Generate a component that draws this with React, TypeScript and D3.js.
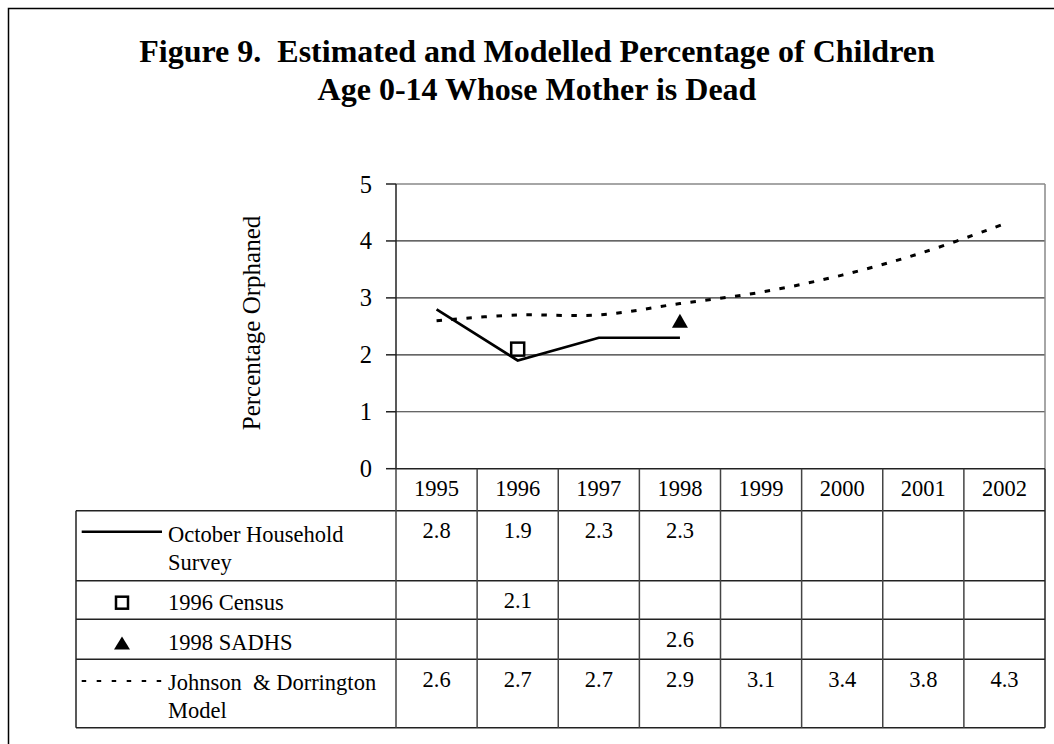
import React from "react";
import * as d3 from "d3";

// Years shown on the category axis and in the data table header
const years = ["1995", "1996", "1997", "1998", "1999", "2000", "2001", "2002"];

// October Household Survey estimates (1995-1998)
const ohsValues: (number | null)[] = [2.8, 1.9, 2.3, 2.3, null, null, null, null];
// 1996 Census point estimate
const censusValues: (number | null)[] = [null, 2.1, null, null, null, null, null, null];
// 1998 SADHS point estimate
const sadhsValues: (number | null)[] = [null, null, null, 2.6, null, null, null, null];
// Johnson & Dorrington model projection
const modelValues: (number | null)[] = [2.6, 2.7, 2.7, 2.9, 3.1, 3.4, 3.8, 4.3];

const yTicks = [0, 1, 2, 3, 4, 5];

const titleLines = [
  "Figure 9.  Estimated and Modelled Percentage of Children",
  "Age 0-14 Whose Mother is Dead",
];
const yAxisLabel = "Percentage Orphaned";

const seriesLabels = [
  ["October Household", "Survey"],
  ["1996 Census"],
  ["1998 SADHS"],
  ["Johnson  & Dorrington", "Model"],
];

const FONT = "'Liberation Serif', 'Times New Roman', serif";

export default function App() {
  const plotLeft = 396;
  const plotRight = 1045;
  const plotTop = 184;
  const plotBottom = 468.7;

  const x = d3.scaleBand<string>().domain(years).range([plotLeft, plotRight]).padding(0);
  const y = d3.scaleLinear().domain([0, 5]).range([plotBottom, plotTop]);
  const cx = (yr: string) => (x(yr) ?? 0) + x.bandwidth() / 2;

  const ohsPts = years
    .map((yr, i) => ({ yr, v: ohsValues[i] }))
    .filter((d) => d.v != null) as { yr: string; v: number }[];
  const modelPts = years
    .map((yr, i) => ({ yr, v: modelValues[i] }))
    .filter((d) => d.v != null) as { yr: string; v: number }[];

  const straight = d3
    .line<{ yr: string; v: number }>()
    .x((d) => cx(d.yr))
    .y((d) => y(d.v));
  const smooth = d3
    .line<{ yr: string; v: number }>()
    .x((d) => cx(d.yr))
    .y((d) => y(d.v))
    .curve(d3.curveCatmullRom.alpha(0.5));

  // Data table geometry
  const tableLeft = 76;
  const tableTop = 510.7;
  const rowBottoms = [580.7, 619.3, 659.3, 727.7];
  const valueBaselines = [538.3, 608, 646.7, 686.7];
  const tableRows = [ohsValues, censusValues, sadhsValues, modelValues];
  const boundaries = years.map((yr) => x(yr) ?? 0).concat([plotRight]);

  const triangle = (cxp: number, cyp: number, w: number, h: number) =>
    `M${cxp},${cyp - h / 2}L${cxp + w / 2},${cyp + h / 2}L${cxp - w / 2},${cyp + h / 2}Z`;

  const fmt = d3.format(".1f");

  return (
    <svg width={1054} height={744} style={{ position: "absolute", left: 0, top: 0, background: "#fff" }} fontFamily={FONT}>
      <rect x={0} y={0} width={1054} height={744} fill="#fff" />
      {/* outer frame */}
      <rect x={8.5} y={8.5} width={1100} height={800} fill="none" stroke="#000" strokeWidth={1.5} />

      {/* title */}
      {titleLines.map((t, i) => (
        <text
          key={t}
          x={537}
          y={61.7 + i * 38.5}
          textAnchor="middle"
          fontWeight="bold"
          fontSize={32}
          style={{ whiteSpace: "pre" }}
        >
          {t}
        </text>
      ))}

      {/* gridlines */}
      {yTicks
        .filter((t) => t > 0 && t < 5)
        .map((t) => (
          <line key={"g" + t} x1={plotLeft} x2={plotRight} y1={y(t)} y2={y(t)} stroke="#333" strokeWidth={1.2} />
        ))}
      {/* plot frame */}
      <line x1={plotLeft} x2={plotRight} y1={plotTop} y2={plotTop} stroke="#888" strokeWidth={1.5} />
      <line x1={plotRight} x2={plotRight} y1={plotTop} y2={plotBottom} stroke="#888" strokeWidth={1.5} />
      <line x1={plotLeft} x2={plotLeft} y1={plotTop} y2={plotBottom} stroke="#222" strokeWidth={1.5} />
      <line x1={plotLeft} x2={plotRight} y1={plotBottom} y2={plotBottom} stroke="#222" strokeWidth={1.5} />

      {/* y ticks and labels */}
      {yTicks.map((t) => (
        <g key={"t" + t}>
          <line x1={plotLeft - 10} x2={plotLeft} y1={y(t)} y2={y(t)} stroke="#222" strokeWidth={1.5} />
          <text x={372} y={y(t) + 8.5} textAnchor="end" fontSize={24.5}>
            {t}
          </text>
        </g>
      ))}
      <text
        transform={`translate(${259.5},${323}) rotate(-90)`}
        textAnchor="middle"
        fontSize={25}
      >
        {yAxisLabel}
      </text>

      {/* series */}
      <path d={smooth(modelPts) ?? ""} fill="none" stroke="#000" strokeWidth={3} strokeDasharray="5.5 9.5" />
      <path d={straight(ohsPts) ?? ""} fill="none" stroke="#000" strokeWidth={2.7} strokeLinejoin="miter" />
      {censusValues.map((v, i) =>
        v == null ? null : (
          <rect
            key={"c" + i}
            x={cx(years[i]) - 6.5}
            y={y(v) - 6.5}
            width={13}
            height={13}
            fill="#fff"
            stroke="#000"
            strokeWidth={2.5}
          />
        )
      )}
      {sadhsValues.map((v, i) =>
        v == null ? null : <path key={"s" + i} d={triangle(cx(years[i]), y(v), 16, 14)} fill="#000" />
      )}

      {/* data table: year header */}
      {years.map((yr) => (
        <text key={"h" + yr} x={cx(yr)} y={496} textAnchor="middle" fontSize={22.5}>
          {yr}
        </text>
      ))}
      {/* table grid */}
      <line x1={tableLeft} x2={plotRight} y1={tableTop} y2={tableTop} stroke="#222" strokeWidth={1.5} />
      {rowBottoms.map((rb, i) => (
        <line key={"rb" + i} x1={tableLeft} x2={plotRight} y1={rb} y2={rb} stroke="#222" strokeWidth={1.5} />
      ))}
      <line x1={tableLeft} x2={tableLeft} y1={tableTop} y2={rowBottoms[3]} stroke="#222" strokeWidth={1.5} />
      {boundaries.map((bx, i) => (
        <line
          key={"vb" + i}
          x1={bx}
          x2={bx}
          y1={plotBottom}
          y2={rowBottoms[3]}
          stroke={i === boundaries.length - 1 ? "#222" : "#444"}
          strokeWidth={1.5}
        />
      ))}
      {/* table values */}
      {tableRows.map((row, r) =>
        row.map((v, i) =>
          v == null ? null : (
            <text key={`v${r}-${i}`} x={cx(years[i])} y={valueBaselines[r]} textAnchor="middle" fontSize={22.5}>
              {fmt(v)}
            </text>
          )
        )
      )}

      {/* legend keys */}
      <line x1={81.7} x2={162} y1={531.7} y2={531.7} stroke="#000" strokeWidth={2.5} />
      <rect x={122 - 6} y={602.7 - 6} width={12} height={12} fill="#fff" stroke="#000" strokeWidth={2.5} />
      <path d={triangle(122, 643, 16, 13)} fill="#000" />
      <line x1={81.7} x2={162} y1={681} y2={681} stroke="#000" strokeWidth={2} strokeDasharray="4.5 10.5" />
      {/* legend labels */}
      {seriesLabels.map((lines, r) => {
        const base = [541.7, 610, 650, 690][r];
        return lines.map((ln, k) => (
          <text
            key={`l${r}-${k}`}
            x={168}
            y={base + k * 28.3}
            fontSize={22.5}
            style={{ whiteSpace: "pre" }}
          >
            {ln}
          </text>
        ));
      })}
    </svg>
  );
}
